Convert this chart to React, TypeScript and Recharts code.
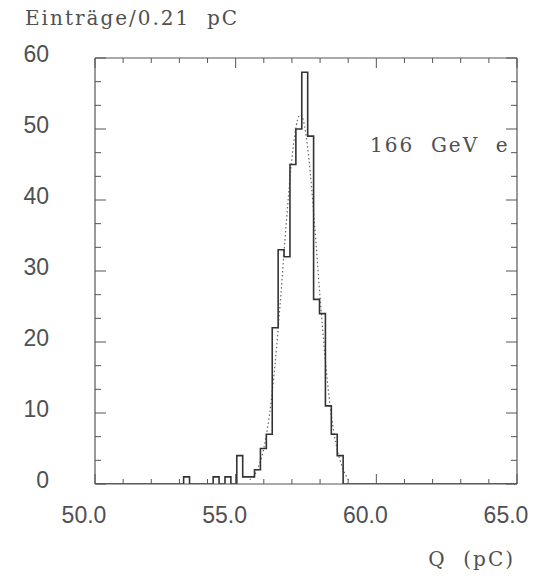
import React from 'react';
import { ComposedChart, Line, XAxis, YAxis } from 'recharts';

// Histogram: bin width 0.21 pC, first listed bin starts at 52.94 pC
const binStart = 52.94;
const binWidth = 0.21;
const counts = [0, 1, 0, 0, 0, 0, 1, 0, 1, 0, 4, 1, 1, 2, 5, 7, 22, 33, 32, 45, 50, 58, 49, 26, 24, 11, 7, 4, 0];

// Dotted fit curve
const fitQ = [55.5, 55.8, 56.0, 56.2, 56.4, 56.6, 56.8, 57.0, 57.2, 57.3, 57.4, 57.6, 57.8, 58.0, 58.2, 58.4, 58.6, 58.8, 59.0];
const fitN = [0.6, 2.3, 5.0, 9.7, 16.9, 26.3, 36.8, 45.9, 51.3, 52.0, 51.3, 45.9, 36.8, 26.3, 16.9, 9.7, 5.0, 2.3, 0.6];

const xLabelTicks = [50, 55, 60, 65];
const xTicks = [50, 51, 52, 53, 54, 55, 56, 57, 58, 59, 60, 61, 62, 63, 64, 65];
const yLabelTicks = [0, 10, 20, 30, 40, 50, 60];
const yTicks: number[] = [];
yLabelTicks.forEach((m, i) => {
  yTicks.push(m);
  if (i < yLabelTicks.length - 1) {
    yTicks.push(m + 10 / 3);
    yTicks.push(m + 20 / 3);
  }
});

const histData = [{ q: 50, n: 0 }]
  .concat(counts.map((n, i) => ({ q: +(binStart + i * binWidth).toFixed(2), n })))
  .concat([{ q: 65, n: 0 }]);
const fitData = fitQ.map((q, i) => ({ q, n: fitN[i] }));

const AX = '#555';
const TXT = '#505050';
const numFont = '"Liberation Sans", Arial, sans-serif';
const serifFont = '"DejaVu Serif", serif';

const isMajorX = (v: number) => Math.abs(v / 5 - Math.round(v / 5)) < 1e-6;
const isMajorY = (v: number) => Math.abs(v / 10 - Math.round(v / 10)) < 1e-6;

const BottomTick = (p: any) => {
  const { x, y, payload } = p;
  const v = payload.value;
  const len = isMajorX(v) ? 10 : 5;
  return (
    <g>
      <line x1={x} x2={x} y1={y} y2={y - len} stroke={AX} strokeWidth={1} />
      {xLabelTicks.includes(v) && (
        <text x={x - 11} y={y + 39} textAnchor="middle" fontFamily={numFont} fontSize={23} fill={TXT}>
          {v.toFixed(1)}
        </text>
      )}
    </g>
  );
};

const TopTick = (p: any) => {
  const { x, y, payload } = p;
  const len = isMajorX(payload.value) ? 10 : 5;
  return <line x1={x} x2={x} y1={y} y2={y + len} stroke={AX} strokeWidth={1} />;
};

const LeftTick = (p: any) => {
  const { x, y, payload } = p;
  const v = payload.value;
  const major = isMajorY(v);
  return (
    <g>
      <line x1={x} x2={x + (major ? 11 : 6)} y1={y} y2={y} stroke={AX} strokeWidth={1} />
      {major && (
        <text x={49} y={y + 4} textAnchor="end" fontFamily={numFont} fontSize={23} fill={TXT}>
          {Math.round(v)}
        </text>
      )}
    </g>
  );
};

const RightTick = (p: any) => {
  const { x, y, payload } = p;
  const len = isMajorY(payload.value) ? 11 : 6;
  return <line x1={x} x2={x - len} y1={y} y2={y} stroke={AX} strokeWidth={1} />;
};

export default function App() {
  return (
    <div style={{ position: 'absolute', left: 0, top: 0, width: 538, height: 578, background: '#fff' }}>
      <ComposedChart width={538} height={578} margin={{ top: 57, right: 20, bottom: 93, left: 94 }}>
        <XAxis
          xAxisId="b"
          dataKey="q"
          type="number"
          domain={[50, 65]}
          ticks={xTicks}
          interval={0}
          height={1}
          tickSize={0}
          tickMargin={0}
          tickLine={false}
          axisLine={{ stroke: AX, strokeWidth: 1.2 }}
          tick={<BottomTick />}
          allowDataOverflow
        />
        <XAxis
          xAxisId="t"
          orientation="top"
          dataKey="q"
          type="number"
          domain={[50, 65]}
          ticks={xTicks}
          interval={0}
          height={1}
          tickSize={0}
          tickMargin={0}
          tickLine={false}
          axisLine={{ stroke: AX, strokeWidth: 1.2 }}
          tick={<TopTick />}
          allowDataOverflow
        />
        <YAxis
          yAxisId="l"
          type="number"
          domain={[0, 60]}
          ticks={yTicks}
          interval={0}
          width={1}
          tickSize={0}
          tickMargin={0}
          tickLine={false}
          axisLine={{ stroke: AX, strokeWidth: 1.2 }}
          tick={<LeftTick />}
          allowDataOverflow
        />
        <YAxis
          yAxisId="r"
          orientation="right"
          type="number"
          domain={[0, 60]}
          ticks={yTicks}
          interval={0}
          width={1}
          tickSize={0}
          tickMargin={0}
          tickLine={false}
          axisLine={{ stroke: AX, strokeWidth: 1.2 }}
          tick={<RightTick />}
          allowDataOverflow
        />
        <Line
          xAxisId="b"
          yAxisId="l"
          data={fitData}
          dataKey="n"
          type="monotone"
          stroke="#666"
          strokeWidth={1.2}
          strokeDasharray="1.5 2.5"
          dot={false}
          isAnimationActive={false}
        />
        <Line
          xAxisId="b"
          yAxisId="l"
          data={histData}
          dataKey="n"
          type="stepAfter"
          stroke="#333"
          strokeWidth={1.6}
          dot={false}
          isAnimationActive={false}
        />
      </ComposedChart>
      <svg width={538} height={578} style={{ position: 'absolute', left: 0, top: 0, pointerEvents: 'none' }}>
        <text x={25} y={25} fontFamily={serifFont} fontSize={20} letterSpacing={2} fill={TXT} style={{ whiteSpace: 'pre' }}>
          {'Einträge/0.21  pC'}
        </text>
        <text x={370} y={152} fontFamily={serifFont} fontSize={20} letterSpacing={2} fill={TXT} style={{ whiteSpace: 'pre' }}>
          {'166  GeV  e'}
        </text>
        <text x={515} y={566} textAnchor="end" fontFamily={serifFont} fontSize={20} letterSpacing={2} fill={TXT} style={{ whiteSpace: 'pre' }}>
          {'Q  (pC)'}
        </text>
      </svg>
    </div>
  );
}
